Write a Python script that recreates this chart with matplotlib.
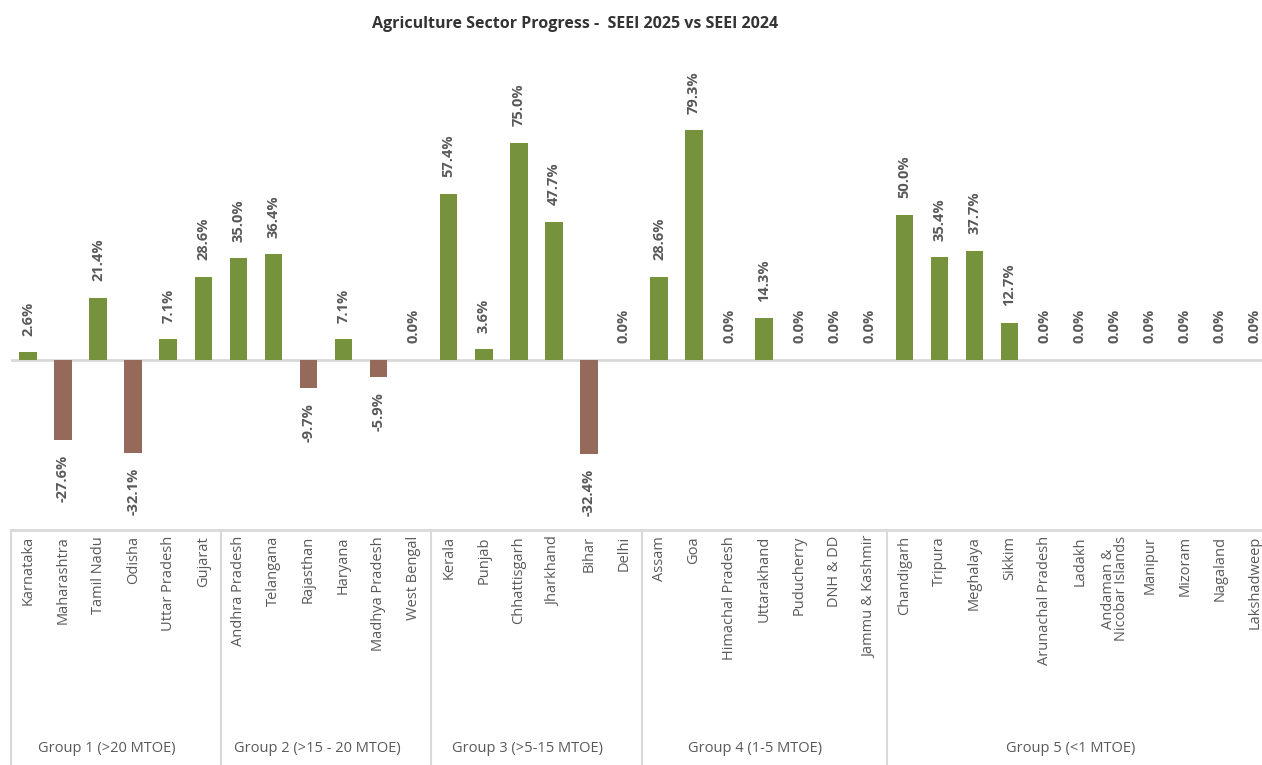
import numpy as np
import matplotlib
matplotlib.use("Agg")
import matplotlib.pyplot as plt
import matplotlib.transforms as mtransforms

plt.rcParams['font.family'] = ['Open Sans', 'DejaVu Sans']

# data
states = ["Karnataka", "Maharashtra", "Tamil Nadu", "Odisha", "Uttar Pradesh", "Gujarat",
          "Andhra Pradesh", "Telangana", "Rajasthan", "Haryana", "Madhya Pradesh", "West Bengal",
          "Kerala", "Punjab", "Chhattisgarh", "Jharkhand", "Bihar", "Delhi",
          "Assam", "Goa", "Himachal Pradesh", "Uttarakhand", "Puducherry", "DNH & DD",
          "Jammu & Kashmir",
          "Chandigarh", "Tripura", "Meghalaya", "Sikkim", "Arunachal Pradesh", "Ladakh",
          "Andaman &\nNicobar Islands", "Manipur", "Mizoram", "Nagaland", "Lakshadweep"]
change = [2.6, -27.6, 21.4, -32.1, 7.1, 28.6,
          35.0, 36.4, -9.7, 7.1, -5.9, 0.0,
          57.4, 3.6, 75.0, 47.7, -32.4, 0.0,
          28.6, 79.3, 0.0, 14.3, 0.0, 0.0, 0.0,
          50.0, 35.4, 37.7, 12.7, 0.0, 0.0, 0.0, 0.0, 0.0, 0.0, 0.0]
groups = ["Group 1 (>20 MTOE)", "Group 2 (>15 - 20 MTOE)", "Group 3 (>5-15 MTOE)",
          "Group 4 (1-5 MTOE)", "Group 5 (<1 MTOE)"]
group_sizes = [6, 6, 6, 7, 11]

green = "#76923C"
brown = "#956A5B"
label_grey = "#595959"
line_grey = "#D9D9D9"

W, H = 1262, 765
fig = plt.figure(figsize=(W / 100, H / 100), dpi=100)
# axes runs a little past the right edge, like the original
ax = fig.add_axes([10.5 / W, (H - 530) / H, 1262 / W, 480 / H])

x = np.arange(len(states))
vals = np.array(change)
colors = [green if v >= 0 else brown for v in vals]
ax.bar(x, vals, width=0.5, color=colors, zorder=2)
ax.axhline(0, color=line_grey, lw=2, zorder=1)

for xi, v in zip(x, vals):
    off = 12 if v >= 0 else -11
    ax.annotate(f"{v:.1f}%", (xi, v), xytext=(0, off), textcoords="offset points",
                rotation=90, ha="center", va="bottom" if v >= 0 else "top",
                fontsize=10.5, fontweight="bold", color=label_grey)

ax.set_xlim(-0.5, len(states) - 0.5)
ax.set_ylim(-58.8, 107)
ax.axis("off")

# category box below the plot
trans = mtransforms.blended_transform_factory(ax.transData, fig.transFigure)
box_top = (H - 530) / H
ax.plot([-0.5, len(states) - 0.5], [box_top, box_top], transform=trans,
        color=line_grey, lw=2, clip_on=False)
for xi, name in zip(x, states):
    ax.text(xi, (H - 536) / H, name, transform=trans, rotation=90, ha="center",
            va="top", multialignment="center", fontsize=10.5, color=label_grey,
            linespacing=0.85)

edges = np.concatenate([[0], np.cumsum(group_sizes)]) - 0.5
for e in edges[:-1]:
    ax.plot([e, e], [0, box_top], transform=trans, color=line_grey, lw=1.5,
            clip_on=False)
for g, a, b in zip(groups, edges[:-1], edges[1:]):
    ax.text((a + b) / 2 - 0.25, 17 / H, g, transform=trans, ha="center", va="center",
            fontsize=10.5, color=label_grey)

fig.text(575 / W, 1 - 24 / H, "Agriculture Sector Progress -  SEEI 2025 vs SEEI 2024",
         ha="center", va="center", fontsize=11.5, fontweight="bold", color="#333333")

fig.savefig("out.png", dpi=100)
